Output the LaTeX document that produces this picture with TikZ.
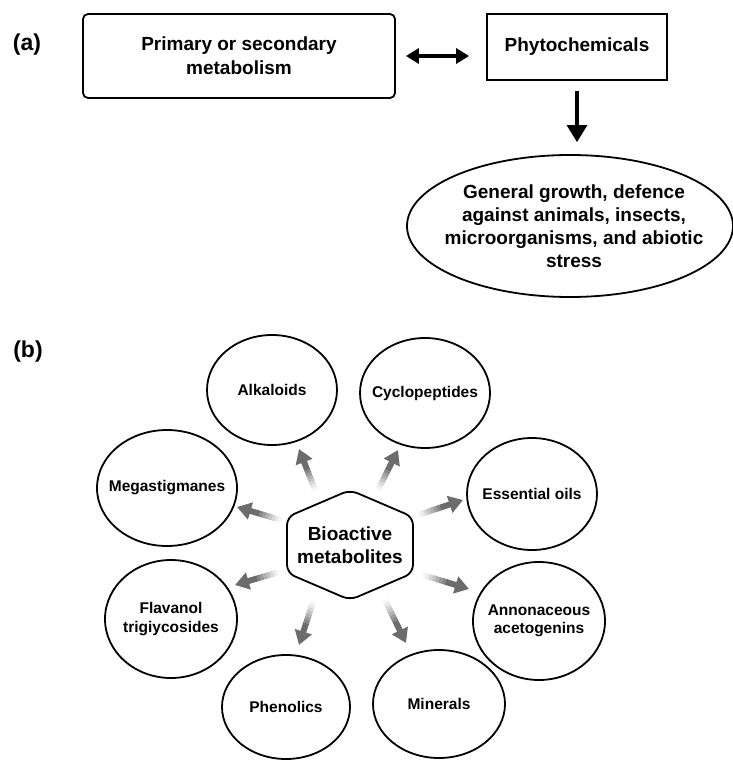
\documentclass[tikz,border=0pt]{standalone}
\usepackage{fontspec}
\setmainfont{Liberation Sans}
\usetikzlibrary{arrows.meta,shapes.geometric,calc}
\definecolor{arrgray}{RGB}{108,108,108}
\tikzset{
  box/.style={draw, line width=1.8pt, inner sep=0pt, align=center,
    font=\bfseries\fontsize{19}{24}\selectfont},
  bubble/.style={draw, ellipse, line width=1.8pt, inner sep=0pt},
  btxt/.style={align=center, font=\bfseries\fontsize{15.5}{18.5}\selectfont},
  etxt/.style={align=center, font=\bfseries\fontsize{19}{23}\selectfont},
  panel/.style={font=\bfseries\fontsize{23}{27}\selectfont},
  blackarrow/.style={line width=3.2pt, black},
  gshaft/.style={line width=6pt, arrgray},
}
\newcommand{\fadearrow}[2]{%
  \foreach \s/\e/\o in {0/0.07/0.06, 0.07/0.14/0.15, 0.14/0.21/0.27, 0.21/0.28/0.4,
                       0.28/0.35/0.53, 0.35/0.42/0.67, 0.42/0.49/0.82}{
    \draw[gshaft, opacity=\o] ($(#1)!\s!(#2)$) -- ($(#1)!\e!(#2)$);}
  \draw[gshaft, -{Triangle[width=17pt,length=14pt]}] ($(#1)!0.49!(#2)$) -- (#2);
}
\begin{document}
\begin{tikzpicture}[x=1pt,y=-1pt]
\fill[white] (0,0) rectangle (732,760);
\useasboundingbox (0,0) rectangle (732,760);

% ---------- panel (a) ----------
\node[panel] (pa) at (27,45) {(a)};
\node[box, rounded corners=5pt, minimum width=312pt, minimum height=84pt] (meta) at (239,56)
  {Primary or secondary\\metabolism};
\node[box, minimum width=180pt, minimum height=66pt] (phyto) at (577,47) {Phytochemicals};
\node[bubble, minimum width=326pt, minimum height=142pt,
  label={[etxt, xshift=4pt]center:{General growth, defence\\against animals, insects,\\microorganisms, and abiotic\\stress}}]
  (eff) at (570,226) {};

\draw[blackarrow, {Triangle[width=15pt,length=13pt]}-{Triangle[width=15pt,length=13pt]},
  shorten <=10pt, shorten >=17pt] (meta.east) -- (meta.east -| phyto.west);
\draw[blackarrow, -{Triangle[width=20pt,length=17pt]}, shorten <=10pt, shorten >=12pt]
  (phyto.south) -- (phyto.south |- eff.north);

% ---------- panel (b) ----------
\node[panel] (pb) at (28,352) {(b)};

\draw[line width=1.8pt, rounded corners=8pt]
  (350,490) -- (413,517) -- (413,573) -- (350,600) -- (287,573) -- (287,517) -- cycle;
\node[etxt] (hex) at (350,545) {Bioactive\\metabolites};

\node[bubble, minimum width=130pt, minimum height=110pt, label={[btxt]center:Alkaloids}] (alk) at (272,390) {};
\node[bubble, minimum width=130pt, minimum height=110pt, label={[btxt]center:Cyclopeptides}] (cyc) at (425,393) {};
\node[bubble, minimum width=140pt, minimum height=116pt, label={[btxt]center:Megastigmanes}] (meg) at (167,488) {};
\node[bubble, minimum width=130pt, minimum height=112pt, label={[btxt]center:Essential oils}] (ess) at (532,494) {};
\node[bubble, minimum width=132pt, minimum height=118pt, label={[btxt]center:{Annonaceous\\acetogenins}}] (ann) at (539,621) {};
\node[bubble, minimum width=132pt, minimum height=118pt, label={[btxt]center:{Flavanol\\trigiycosides}}] (fla) at (171,619) {};
\node[bubble, minimum width=128pt, minimum height=104pt, label={[btxt]center:Phenolics}] (phe) at (286,707) {};
\node[bubble, minimum width=132pt, minimum height=108pt, label={[btxt]center:Minerals}] (min) at (439,704) {};

% arrow end points
\coordinate (t1) at (315,490); \coordinate (h1) at (299,449);
\coordinate (t2) at (378,490); \coordinate (h2) at (398,450);
\coordinate (t3) at (418,515); \coordinate (h3) at (463,500);
\coordinate (t4) at (281,520); \coordinate (h4) at (237,507);
\coordinate (t5) at (279,572); \coordinate (h5) at (235,585);
\coordinate (t6) at (423,575); \coordinate (h6) at (469,589);
\coordinate (t7) at (313,602); \coordinate (h7) at (299,645);
\coordinate (t8) at (385,600); \coordinate (h8) at (406,643);

\fadearrow{t1}{h1}
\fadearrow{t2}{h2}
\fadearrow{t3}{h3}
\fadearrow{t4}{h4}
\fadearrow{t5}{h5}
\fadearrow{t6}{h6}
\fadearrow{t7}{h7}
\fadearrow{t8}{h8}
\end{tikzpicture}
\end{document}
